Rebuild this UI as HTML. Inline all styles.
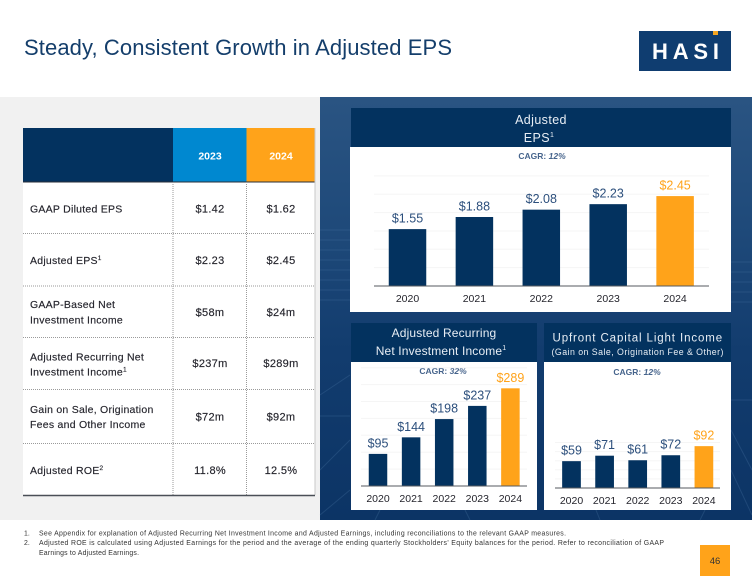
<!DOCTYPE html>
<html lang="en">
<head>
<meta charset="utf-8">
<title>Steady, Consistent Growth in Adjusted EPS</title>
<style>
html,body{margin:0;padding:0;background:#fff;width:752px;height:583px;overflow:hidden}
svg{display:block;font-family:"Liberation Sans",sans-serif;filter:blur(.25px)}
.lbl{font-size:10.5px;fill:#24242c;letter-spacing:.25px;stroke:#24242c;stroke-width:.15px}
.val{font-size:11px;fill:#24242c;text-anchor:middle;letter-spacing:.3px;stroke:#24242c;stroke-width:.15px}
.hd{font-size:12.5px;fill:#e8eef5;text-anchor:middle;letter-spacing:.4px}
.cagr{font-size:8.5px;fill:#46648c;text-anchor:middle;font-weight:bold}
.fn{font-size:6.9px;fill:#333}
</style>
</head>
<body>
<svg id="slide" width="752" height="583" viewBox="0 0 752 583" xmlns="http://www.w3.org/2000/svg">
<defs>
<linearGradient id="bg" x1="0" y1="0" x2="0" y2="1">
<stop offset="0" stop-color="#2a5482"/><stop offset=".3" stop-color="#1f4a7a"/><stop offset=".6" stop-color="#123c6e"/><stop offset="1" stop-color="#0c3465"/>
</linearGradient>
</defs>
<rect width="752" height="583" fill="#fff"/>
<text x="24" y="55" font-size="22" fill="#143e6b" textLength="428" lengthAdjust="spacing">Steady, Consistent Growth in Adjusted EPS</text>
<g>
<rect x="639" y="31" width="92" height="40" fill="#0f3d70"/>
<rect x="713" y="31" width="5" height="4" fill="#f5a623"/>
<text x="652" y="59" font-size="22" font-weight="bold" fill="#fff" textLength="67" lengthAdjust="spacing">HASI</text>
</g>
<rect x="0" y="97" width="320" height="423" fill="#f1f1f1"/>
<g>
<rect x="320" y="97" width="432" height="423" fill="url(#bg)"/>
<g stroke="#4f7aa8" stroke-width="1" opacity=".28" fill="none">
<path d="M320 230H350M320 240H350M320 250H350M320 260H350M320 270H350M320 280H350M320 290H350M320 300H350"/>
<path d="M731 262H752M731 272H752M731 282H752M731 292H752M731 302H752"/>
<path d="M320 395L350 375M320 470L350 440M320 515L350 490M731 430L752 470M731 470L752 515M375 520L380 510M470 520L465 510M600 520L596 510M700 520L705 510M320 416H350M731 400H752"/>
</g>
</g>

<g>
<rect x="23" y="182" width="292" height="313" fill="#fff"/>
<rect x="23" y="128" width="150" height="54" fill="#03325f"/>
<rect x="173" y="128" width="73.5" height="54" fill="#0088d0"/>
<rect x="246.5" y="128" width="68.5" height="54" fill="#ffa31a"/>
<path d="M23 182H315" stroke="#2a2f38" stroke-width="1"/>
<path d="M23 233.5H315M23 286H315M23 337.5H315M23 389.5H315M23 443.5H315M173 182V495M246.5 182V495" stroke="#9a9a9a" stroke-width="1" stroke-dasharray="1 1" fill="none"/>
<path d="M315 128V495" stroke="#c9c9c9" stroke-width="1"/>
<path d="M23 495.5H315" stroke="#4a4f57" stroke-width="1.5"/>
<text x="210" y="159.5" font-size="10.5" font-weight="bold" fill="#fff" text-anchor="middle">2023</text>
<text x="281" y="159.5" font-size="10.5" font-weight="bold" fill="#fff" text-anchor="middle">2024</text>

<text class="lbl" x="30" y="212.5">GAAP Diluted EPS</text>
<text class="val" x="210" y="212.5">$1.42</text>
<text class="val" x="281" y="212.5">$1.62</text>

<text class="lbl" x="30" y="264">Adjusted EPS<tspan font-size="6.5" dy="-4">1</tspan></text>
<text class="val" x="210" y="264">$2.23</text>
<text class="val" x="281" y="264">$2.45</text>

<text class="lbl"><tspan x="30" y="308">GAAP-Based Net</tspan><tspan x="30" y="323.5">Investment Income</tspan></text>
<text class="val" x="210" y="316">$58m</text>
<text class="val" x="281" y="316">$24m</text>

<text class="lbl"><tspan x="30" y="360.5">Adjusted Recurring Net</tspan><tspan x="30" y="375.5">Investment Income</tspan><tspan font-size="6.5" dy="-4">1</tspan></text>
<text class="val" x="210" y="367">$237m</text>
<text class="val" x="281" y="367">$289m</text>

<text class="lbl"><tspan x="30" y="413">Gain on Sale, Origination</tspan><tspan x="30" y="428">Fees and Other Income</tspan></text>
<text class="val" x="210" y="420.5">$72m</text>
<text class="val" x="281" y="420.5">$92m</text>

<text class="lbl" x="30" y="474">Adjusted ROE<tspan font-size="6.5" dy="-4">2</tspan></text>
<text class="val" x="210" y="474">11.8%</text>
<text class="val" x="281" y="474">12.5%</text>
</g>

<g>
<rect x="351" y="108" width="380" height="39" fill="#03325f"/>
<rect x="350" y="147" width="381" height="165" fill="#fff"/>
<text class="hd"><tspan x="541" y="124">Adjusted</tspan><tspan x="539" y="142">EPS</tspan><tspan font-size="7" dy="-5">1</tspan></text>
<text class="cagr" x="542" y="159">CAGR: <tspan font-style="italic">12%</tspan></text>
</g>
<g>
<rect x="351" y="323" width="186" height="39" fill="#03325f"/>
<rect x="351" y="362" width="186" height="148" fill="#fff"/>
<text class="hd" style="font-size:12px;letter-spacing:.15px"><tspan x="444" y="337">Adjusted Recurring</tspan><tspan x="441" y="355">Net Investment Income</tspan><tspan font-size="7" dy="-5">1</tspan></text>
<text class="cagr" x="443" y="374">CAGR: <tspan font-style="italic">32%</tspan></text>
</g>
<g>
<rect x="544" y="323" width="187" height="39" fill="#03325f"/>
<rect x="544" y="362" width="187" height="148" fill="#fff"/>
<text class="hd" style="font-size:11.5px" x="637.5" y="341.5" textLength="170" lengthAdjust="spacing">Upfront Capital Light Income</text>
<text class="hd" style="font-size:8.8px;letter-spacing:.1px" x="637.5" y="355" textLength="172" lengthAdjust="spacing">(Gain on Sale, Origination Fee &amp; Other)</text>
<text class="cagr" x="637" y="375">CAGR: <tspan font-style="italic">12%</tspan></text>
</g>

<g>
<text class="fn" x="24" y="535.5">1.</text>
<text class="fn" x="39" y="535.5" textLength="527" lengthAdjust="spacing">See Appendix for explanation of Adjusted Recurring Net Investment Income and Adjusted Earnings, including reconciliations to the relevant GAAP measures.</text>
<text class="fn" x="24" y="545">2.</text>
<text class="fn" x="39" y="545" textLength="625" lengthAdjust="spacing">Adjusted ROE is calculated using Adjusted Earnings for the period and the average of the ending quarterly Stockholders' Equity balances for the period. Refer to reconciliation of GAAP</text>
<text class="fn" x="39" y="555" textLength="100" lengthAdjust="spacing">Earnings to Adjusted Earnings.</text>
</g>
<g>
<rect x="700" y="545" width="30" height="31" fill="#ffa31a"/>
<text x="715" y="564" font-size="9.5" fill="#333" text-anchor="middle">46</text>
</g>
<g id="charts"></g>
</svg>
<script>
var years = ['2020', '2021', '2022', '2023', '2024'];
var epsValues = [1.55, 1.88, 2.08, 2.23, 2.45];
var recurringValues = [95, 144, 198, 237, 289];
var capitalLightValues = [59, 71, 61, 72, 92];
var epsGridTicks = [0.5, 1, 1.5, 2, 2.5, 3];
var recurringGridTicks = [50, 100, 150, 200, 250, 300, 350];
var capitalLightGridTicks = [20, 40, 60, 80, 100];

var NS = 'http://www.w3.org/2000/svg';
var NAVY = '#03325f';
var ORANGE = '#ffa31a';
var LABEL_BLUE = '#2c4f7c';
var root = document.getElementById('charts');

function drawChart(name, values, ticks, fmt, o) {
  var g = document.createElementNS(NS, 'g');
  
  
  root.appendChild(g);
  function y(v) { return o.baseY - v * o.pxPerUnit; }
  function x(i) { return o.firstCenter + i * o.step; }

  ticks.forEach(function (t) {
    var line = document.createElementNS(NS, 'line');
    
    
    line.setAttribute('x1', o.gridL);
    line.setAttribute('x2', o.gridR);
    line.setAttribute('y1', y(t));
    line.setAttribute('y2', y(t));
    line.setAttribute('stroke', '#f5f5f5');
    line.setAttribute('stroke-width', '1');
    g.appendChild(line);
  });

  values.forEach(function (v, i) {
    var last = i === values.length - 1;
    var bar = document.createElementNS(NS, 'rect');
    
    
    bar.setAttribute('x', x(i) - o.barW / 2);
    bar.setAttribute('y', y(v));
    bar.setAttribute('width', o.barW);
    bar.setAttribute('height', o.baseY - y(v));
    bar.setAttribute('fill', last ? ORANGE : NAVY);
    g.appendChild(bar);

    var lab = document.createElementNS(NS, 'text');
    
    
    lab.setAttribute('x', x(i));
    lab.setAttribute('y', y(v) - 6.5);
    lab.setAttribute('text-anchor', 'middle');
    lab.setAttribute('font-size', '12.5');
    lab.setAttribute('fill', last ? ORANGE : LABEL_BLUE);
    lab.textContent = fmt(v);
    g.appendChild(lab);

    var tick = document.createElementNS(NS, 'text');
    
    
    tick.setAttribute('x', x(i));
    tick.setAttribute('y', o.baseY + 16);
    tick.setAttribute('text-anchor', 'middle');
    tick.setAttribute('font-size', '10.5');
    tick.setAttribute('fill', '#24242c');
    tick.textContent = years[i];
    g.appendChild(tick);
  });

  var axis = document.createElementNS(NS, 'line');
  
  
  axis.setAttribute('x1', o.gridL);
  axis.setAttribute('x2', o.gridR);
  axis.setAttribute('y1', o.baseY);
  axis.setAttribute('y2', o.baseY);
  axis.setAttribute('stroke', '#55595f');
  axis.setAttribute('stroke-width', '1');
  g.appendChild(axis);
}

function dollars2(v) { return '$' + v.toFixed(2); }
function dollars0(v) { return '$' + v; }

drawChart('eps-chart', epsValues, epsGridTicks, dollars2,
  {baseY: 286, pxPerUnit: 36.7, firstCenter: 407.5, step: 66.9, barW: 37.5, gridL: 374, gridR: 709});
drawChart('recurring-income-chart', recurringValues, recurringGridTicks, dollars0,
  {baseY: 486, pxPerUnit: 0.338, firstCenter: 378, step: 33.1, barW: 18.5, gridL: 361, gridR: 527});
drawChart('capital-light-chart', capitalLightValues, capitalLightGridTicks, dollars0,
  {baseY: 488, pxPerUnit: 0.455, firstCenter: 571.5, step: 33.1, barW: 18.7, gridL: 555, gridR: 720});
</script>
</body>
</html>
